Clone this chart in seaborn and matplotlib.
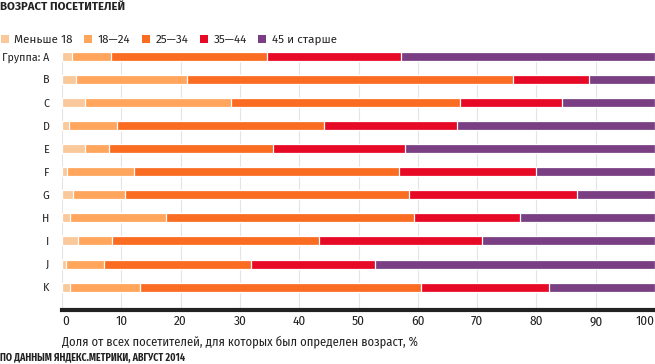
import pandas as pd
import matplotlib.pyplot as plt
import seaborn as sns
from matplotlib.patches import Patch

# --- data ---
groups = ['A', 'B', 'C', 'D', 'E', 'F', 'G', 'H', 'I', 'J', 'K']
group_labels = ['Группа: A', 'B', 'C', 'D', 'E', 'F', 'G', 'H', 'I', 'J', 'K']
age_bins = ['Меньше 18', '18—24', '25—34', '35—44', '45 и старше']

under_18 = [1.7, 2.3, 3.9, 1.2, 3.8, 0.9, 1.9, 1.4, 2.7, 0.7, 1.4]
age_18_24 = [6.6, 18.7, 24.6, 8.0, 4.2, 11.3, 8.8, 16.2, 5.8, 6.3, 11.8]
age_25_34 = [26.3, 55.1, 38.6, 34.9, 27.5, 44.7, 47.9, 41.8, 34.9, 24.8, 47.3]
age_35_44 = [22.5, 12.8, 17.3, 22.5, 22.3, 23.1, 28.2, 17.8, 27.4, 20.9, 21.7]
age_45_plus = [42.9, 11.1, 15.6, 33.4, 42.2, 20.0, 13.2, 22.8, 29.2, 47.3, 17.8]

x_ticks = [0, 10, 20, 30, 40, 50, 60, 70, 80, 90, 100]

colors = ['#F9C89B', '#FFA55C', '#FA6C22', '#E70A27', '#793F82']

df = pd.DataFrame({'group': groups,
                   age_bins[0]: under_18,
                   age_bins[1]: age_18_24,
                   age_bins[2]: age_25_34,
                   age_bins[3]: age_35_44,
                   age_bins[4]: age_45_plus})
# stacked bars = cumulative sums drawn from the longest to the shortest
cum = df[age_bins].cumsum(axis=1)
cum['group'] = df['group']

sns.set_style('white')
regular = ['Fira Sans', 'Liberation Sans', 'DejaVu Sans']
narrow = ['Fira Sans Condensed', 'Liberation Sans', 'DejaVu Sans']
plt.rcParams['font.family'] = regular
text_color = '#222222'

fig = plt.figure(figsize=(6.55, 3.64), dpi=100)
ax = fig.add_axes([62 / 655, 1 - 310 / 364, 593 / 655, (310 - 51.5) / 364])

for col, c in reversed(list(zip(age_bins, colors))):
    sns.barplot(data=cum, y='group', x=col, color=c, orient='h', order=groups,
                width=0.39, edgecolor='white', linewidth=0.9, errorbar=None,
                saturation=1, ax=ax)

ax.set_xlim(0, 100)
ax.set_ylim(10.99, -0.2)
ax.set_xticks(x_ticks)
ax.set_xticklabels([str(t) for t in x_ticks], fontfamily=narrow, fontsize=9.5,
                   color=text_color)
ax.get_xticklabels()[-1].set_ha('right')
ax.get_xticklabels()[0].set_ha('left')
ax.set_yticks(range(len(groups)))
ax.set_yticklabels(group_labels, fontsize=7.7, color=text_color)
ax.tick_params(axis='x', length=0, pad=4)
ax.tick_params(axis='y', length=0, pad=9)
ax.set_ylabel('')
ax.set_xlabel('Доля от всех посетителей, для которых был определен возраст, %',
              loc='left', fontfamily=narrow, fontsize=9.05, color=text_color,
              labelpad=5)

ax.set_axisbelow(True)
ax.grid(axis='x', color='#e4e4e4', linewidth=0.8)
ax.grid(axis='y', visible=False)
for side in ['top', 'right', 'left']:
    ax.spines[side].set_visible(False)
ax.spines['bottom'].set_color('#222222')
ax.spines['bottom'].set_linewidth(3)

# title, legend, source
fig.text(0.0, 1 - 7 / 364, 'ВОЗРАСТ ПОСЕТИТЕЛЕЙ', fontsize=8.2, fontweight='bold',
         color=text_color, va='center', ha='left')

handles = [Patch(facecolor=c, edgecolor='none') for c in colors]
fig.legend(handles, age_bins, loc='center left', bbox_to_anchor=(0.001, 1 - 40 / 364),
           ncol=5, frameon=False, fontsize=8.4, handlelength=0.7, handleheight=0.7,
           handletextpad=0.45, columnspacing=1.0, borderaxespad=0, borderpad=0,
           labelcolor=text_color)

fig.text(0.0, 1 - 358 / 364, 'ПО ДАННЫМ ЯНДЕКС.МЕТРИКИ, АВГУСТ 2014', fontsize=7.2,
         fontfamily=narrow, fontweight='bold', color=text_color, va='center', ha='left')

fig.savefig('out.png', dpi=100)
